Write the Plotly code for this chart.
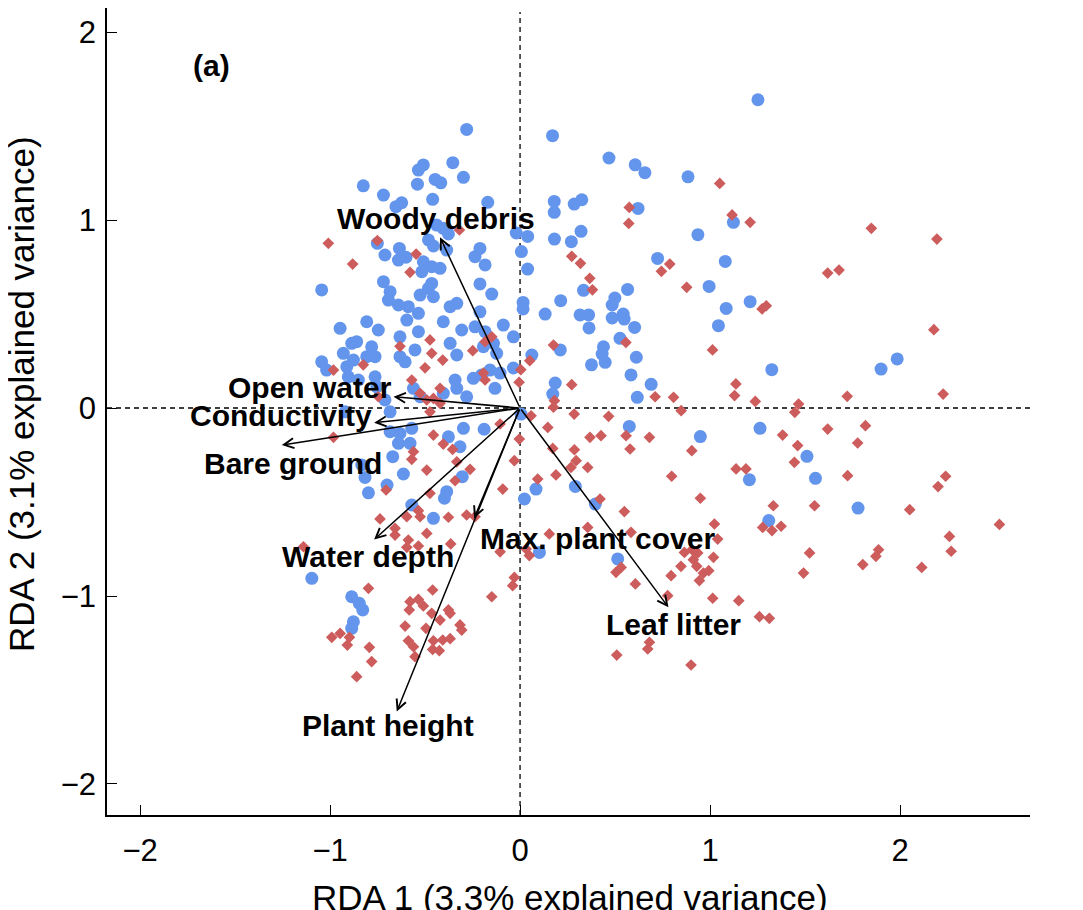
import plotly.graph_objects as go

# ---- sites (RDA scores) ----
blue_x = [-0.509,-0.535,-0.354,-0.298,-0.447,-0.417,-0.540,-0.825,-0.719,-0.460,-0.623,-0.653,-0.170,-0.439,-0.404,-0.377,-0.482,-0.456,-0.386,-0.751,-0.711,-0.635,-0.640,-0.600,-0.211,-0.237,-0.184,-0.509,-0.465,-0.421,-0.517,-0.719,-0.465,-0.482,-0.526,-0.456,-0.211,-0.149,-0.684,-0.693,-0.640,-0.588,-0.596,-0.535,-0.368,-0.333,-0.211,-1.044,-0.807,-0.746,-0.404,-0.307,-0.237,-0.184,-0.088,-0.035,-0.947,-0.886,-0.860,-0.781,-0.763,-0.930,-0.877,-0.807,-1.044,-1.018,-0.912,-0.904,-0.851,-0.632,-0.535,-0.632,-0.605,-0.553,-0.368,-0.333,-0.193,-0.140,-0.123,-0.246,-0.202,-0.158,-0.105,-0.035,-0.342,-0.404,-0.333,-0.281,-0.763,-0.754,-0.561,-0.526,-0.711,-0.132,-0.281,
          1.252,0.171,0.468,0.606,0.657,0.884,0.180,0.180,0.285,0.325,0.621,1.123,-0.020,0.040,0.181,0.270,0.321,0.007,0.040,0.936,0.724,1.080,0.334,0.214,0.566,0.499,0.485,0.016,0.016,0.132,0.316,0.361,0.363,0.543,0.548,0.485,0.603,0.995,1.211,1.085,1.044,0.526,0.212,0.062,0.439,0.432,0.448,0.376,0.612,0.584,0.690,0.185,0.172,0.617,1.325,1.900,1.985,
          0.575,0.949,1.263,1.207,0.084,0.023,0.291,0.396,1.309,0.102,0.514,0.005,
          1.510,1.555,1.779,
          -0.684,-0.684,-0.632,-0.570,-0.640,-0.579,-0.670,-0.833,-0.816,-0.614,-0.700,-0.798,-0.377,-0.316,-0.298,-0.189,-0.304,-0.386,-0.398,-0.570,-0.456,-1.096,-0.886,-0.846,-0.828,-0.877,-0.886,-0.920]
blue_y = [1.293,1.266,1.305,1.227,1.216,1.198,1.191,1.182,1.133,1.110,1.092,1.071,1.094,0.973,0.956,0.926,0.894,0.862,0.840,0.876,0.814,0.849,0.787,0.802,0.849,0.805,0.761,0.778,0.752,0.743,0.725,0.672,0.663,0.637,0.601,0.592,0.660,0.606,0.619,0.574,0.548,0.539,0.468,0.504,0.539,0.557,0.512,0.628,0.459,0.415,0.459,0.415,0.432,0.406,0.441,0.379,0.424,0.344,0.353,0.326,0.273,0.291,0.255,0.273,0.246,0.202,0.220,0.166,0.149,0.379,0.406,0.273,0.246,0.309,0.344,0.282,0.326,0.344,0.291,0.158,0.176,0.202,0.186,0.213,0.149,0.078,0.105,0.060,0.166,0.113,0.105,0.060,0.043,0.105,1.482,
          1.640,1.449,1.330,1.294,1.252,1.230,1.099,1.041,1.085,1.108,1.062,0.988,0.931,0.913,0.899,0.885,0.940,0.832,0.739,0.922,0.796,0.780,0.626,0.571,0.631,0.585,0.548,0.562,0.527,0.500,0.495,0.495,0.426,0.500,0.473,0.479,0.429,0.647,0.566,0.530,0.438,0.371,0.309,0.282,0.326,0.287,0.243,0.230,0.270,0.176,0.126,0.133,0.074,0.057,0.204,0.207,0.261,
          -0.098,-0.152,-0.108,-0.381,-0.431,-0.484,-0.417,-0.511,-0.599,-0.768,-0.803,-0.032,
          -0.257,-0.374,-0.532,
          -0.020,-0.126,-0.135,-0.108,-0.188,-0.188,-0.259,-0.303,-0.369,-0.351,-0.410,-0.451,-0.153,-0.206,-0.108,-0.113,-0.365,-0.445,-0.480,-0.516,-0.587,-0.906,-1.004,-1.039,-1.074,-1.137,-1.172,-0.020]

red_x = [-1.009,-0.881,-0.751,-0.547,-0.579,-0.319,-0.474,-0.632,-0.465,-0.407,-0.500,-0.249,-0.149,-0.184,-0.982,-0.825,-0.570,-0.421,-0.193,-0.184,-0.746,-0.526,-0.491,-0.456,-0.421,
         1.051,0.575,0.572,1.116,1.211,1.849,2.194,0.272,0.318,0.744,0.788,0.367,0.381,0.877,1.619,1.679,1.274,1.296,2.178,0.176,0.557,1.013,0.051,0.004,-0.005,0.272,0.181,0.176,0.711,0.808,1.136,1.129,1.238,1.466,1.446,1.722,2.227,0.848,0.285,0.466,0.058,
         0.146,-0.004,0.368,0.426,0.558,0.681,0.579,0.904,0.286,0.172,1.382,1.461,1.444,0.295,0.268,0.356,-0.030,0.189,0.093,-0.091,0.798,1.137,1.189,0.949,0.421,0.549,1.333,1.023,1.277,1.326,1.374,1.040,0.356,0.154,0.584,0.865,0.905,0.935,0.912,0.847,0.930,1.018,0.965,0.993,0.944,0.032,0.049,-0.030,-0.039,0.505,0.532,0.607,0.795,0.777,1.014,1.151,1.260,1.312,0.681,0.672,0.509,0.900,
         1.619,1.818,1.777,1.724,2.240,2.200,2.051,1.550,2.523,2.260,2.269,1.887,1.873,1.804,2.114,1.524,1.492,
         -0.474,-0.982,-0.456,-0.404,-0.355,-0.561,-0.570,-0.491,-0.333,-0.263,-0.342,-0.105,-0.705,-0.474,-0.737,-0.596,-0.535,-0.526,-0.377,-0.281,-0.237,-0.658,-0.658,-0.491,-0.588,-0.596,-0.535,-0.365,-1.140,-0.105,-0.149,-0.798,-0.460,-0.579,-0.535,-0.509,-0.583,-0.377,-0.368,-0.465,-0.421,-0.605,-0.495,-0.316,-0.307,-0.991,-0.947,-0.898,-0.909,-0.793,-0.781,-0.860,-0.588,-0.561,-0.553,-0.456,-0.460,-0.425,-0.407,-0.368]
red_y = [0.876,0.766,0.890,0.819,0.722,0.947,0.362,0.328,0.291,0.255,0.214,0.305,0.379,0.353,0.202,0.230,0.149,0.105,0.186,0.149,0.060,0.078,0.043,0.051,0.025,
         1.195,1.067,0.982,1.027,0.988,0.956,0.899,0.807,0.770,0.727,0.766,0.690,0.629,0.642,0.718,0.734,0.527,0.544,0.417,0.335,0.349,0.309,0.252,0.204,0.137,0.124,0.039,0.004,0.060,0.057,0.128,0.066,0.035,0.021,-0.023,0.062,0.074,-0.014,-0.032,-0.044,-0.041,
         -0.103,-0.165,-0.156,-0.147,-0.147,-0.156,-0.218,-0.227,-0.222,-0.215,-0.144,-0.200,-0.289,-0.280,-0.316,-0.316,-0.280,-0.356,-0.378,-0.431,-0.363,-0.324,-0.324,-0.480,-0.484,-0.551,-0.520,-0.617,-0.635,-0.652,-0.629,-0.697,-0.635,-0.670,-0.661,-0.768,-0.754,-0.771,-0.807,-0.842,-0.842,-0.794,-0.878,-0.865,-0.918,-0.750,-0.785,-0.901,-0.945,-0.874,-0.848,-0.936,-0.892,-0.998,-1.012,-1.025,-1.110,-1.119,-1.246,-1.282,-1.314,-1.367,
         -0.112,-0.094,-0.186,-0.360,-0.363,-0.418,-0.541,-0.520,-0.619,-0.683,-0.762,-0.754,-0.789,-0.833,-0.848,-0.771,-0.878,
         -0.020,-0.156,-0.144,-0.192,-0.220,-0.232,-0.273,-0.330,-0.286,-0.326,-0.387,-0.085,-0.436,-0.454,-0.590,-0.578,-0.546,-0.578,-0.581,-0.569,-0.578,-0.640,-0.676,-0.667,-0.702,-0.741,-0.734,-0.723,-0.738,-0.765,-1.004,-0.959,-0.968,-1.030,-1.018,-1.053,-1.074,-1.074,-1.092,-1.092,-1.128,-1.160,-1.172,-1.154,-1.181,-1.220,-1.199,-1.220,-1.261,-1.273,-1.349,-1.429,-1.238,-1.270,-1.323,-1.238,-1.284,-1.291,-1.234,-1.227]

# ---- environmental vectors ----
env_names = ["Woody debris", "Open water", "Conductivity", "Bare ground",
             "Water depth", "Max. plant cover", "Plant height", "Leaf litter"]
env_x = [-0.421, -0.666, -0.768, -1.254, -0.768, -0.242, -0.649, 0.781]
env_y = [0.908, 0.060, -0.078, -0.197, -0.700, -0.587, -1.615, -1.060]
label_x = [-0.445, -1.105, -1.258, -1.196, -0.798, 0.405, -0.695, 0.805]
label_y = [1.008, 0.109, -0.040, -0.293, -0.791, -0.692, -1.689, -1.151]

x_ticks = [-2, -1, 0, 1, 2]
y_ticks = [-2, -1, 0, 1, 2]
x_range = [-2.174, 2.684]
y_range = [-2.165, 2.128]

FONT = "Liberation Sans, Arial, Helvetica, sans-serif"

# page offset of the plot div (browser default body margin)
PAGE = 8
PLOT_L, PLOT_R, PLOT_T, PLOT_B = 107, 1030, 8, 815   # target plot box in screenshot px
W, H = 1083, 910
PW, PH = PLOT_R - PLOT_L, PLOT_B - PLOT_T

fig = go.Figure()
fig.add_trace(go.Scatter(x=blue_x, y=blue_y, mode="markers",
                         marker=dict(symbol="circle", size=13, color="#6495ED",
                                     line=dict(width=0)),
                         showlegend=False, hoverinfo="skip"))
fig.add_trace(go.Scatter(x=red_x, y=red_y, mode="markers",
                         marker=dict(symbol="diamond", size=9, color="#CD5C5C",
                                     line=dict(width=0)),
                         showlegend=False, hoverinfo="skip"))

# dashed reference lines
fig.add_shape(type="line", xref="paper", yref="y", x0=0, x1=1, y0=0, y1=0,
              line=dict(color="black", width=1.3, dash="5px,4px"), layer="below")
fig.add_shape(type="line", xref="x", yref="paper", x0=0, x1=0, y0=0, y1=0.995,
              line=dict(color="black", width=1.3, dash="5px,4px"), layer="below")

annotations = []
for ex, ey in zip(env_x, env_y):
    annotations.append(dict(x=ex, y=ey, ax=0, ay=0, xref="x", yref="y",
                            axref="x", ayref="y", text="", showarrow=True,
                            arrowhead=5, arrowsize=1.3, arrowwidth=1.5,
                            arrowcolor="black", standoff=0, startstandoff=0))
for name, lx, ly in zip(env_names, label_x, label_y):
    annotations.append(dict(x=lx, y=ly, xref="x", yref="y", text="<b>%s</b>" % name,
                            showarrow=False, xanchor="center", yanchor="middle",
                            font=dict(family=FONT, size=30, color="black")))

annotations.append(dict(x=-1.626, y=1.824, xref="x", yref="y", text="<b>(a)</b>",
                        showarrow=False, xanchor="center", yanchor="middle",
                        font=dict(family=FONT, size=30, color="black")))
annotations.append(dict(x=(570 - PLOT_L) / PW, y=(PLOT_B - 897.5) / PH, xref="paper", yref="paper",
                        text="RDA 1 (3.3% explained variance)", showarrow=False,
                        xanchor="center", yanchor="middle",
                        font=dict(family=FONT, size=35, color="black")))
annotations.append(dict(x=(22 - PLOT_L) / PW, y=(PLOT_B - 394) / PH, xref="paper", yref="paper",
                        text="RDA 2 (3.1% explained variance)", showarrow=False,
                        textangle=-90, xanchor="center", yanchor="middle",
                        font=dict(family=FONT, size=35, color="black")))

fig.update_layout(
    width=W, height=H,
    margin=dict(l=PLOT_L - PAGE, r=W - (PLOT_R - PAGE), t=PLOT_T - PAGE,
                b=H - (PLOT_B - PAGE), pad=0),
    paper_bgcolor="white", plot_bgcolor="white",
    annotations=annotations,
    xaxis=dict(range=x_range, tickvals=x_ticks, showgrid=False, zeroline=False,
               showline=True, linecolor="black", linewidth=1.5, mirror=False,
               ticks="inside", ticklen=10, tickwidth=1.3, tickcolor="black",
               ticklabelstandoff=7,
               tickfont=dict(family=FONT, size=31, color="black")),
    yaxis=dict(range=y_range, tickvals=y_ticks, showgrid=False, zeroline=False,
               showline=True, linecolor="black", linewidth=1.5, mirror=False,
               ticks="inside", ticklen=10, tickwidth=1.3, tickcolor="black",
               ticklabelstandoff=3,
               tickfont=dict(family=FONT, size=31, color="black")),
)

fig.write_html("out.html")
